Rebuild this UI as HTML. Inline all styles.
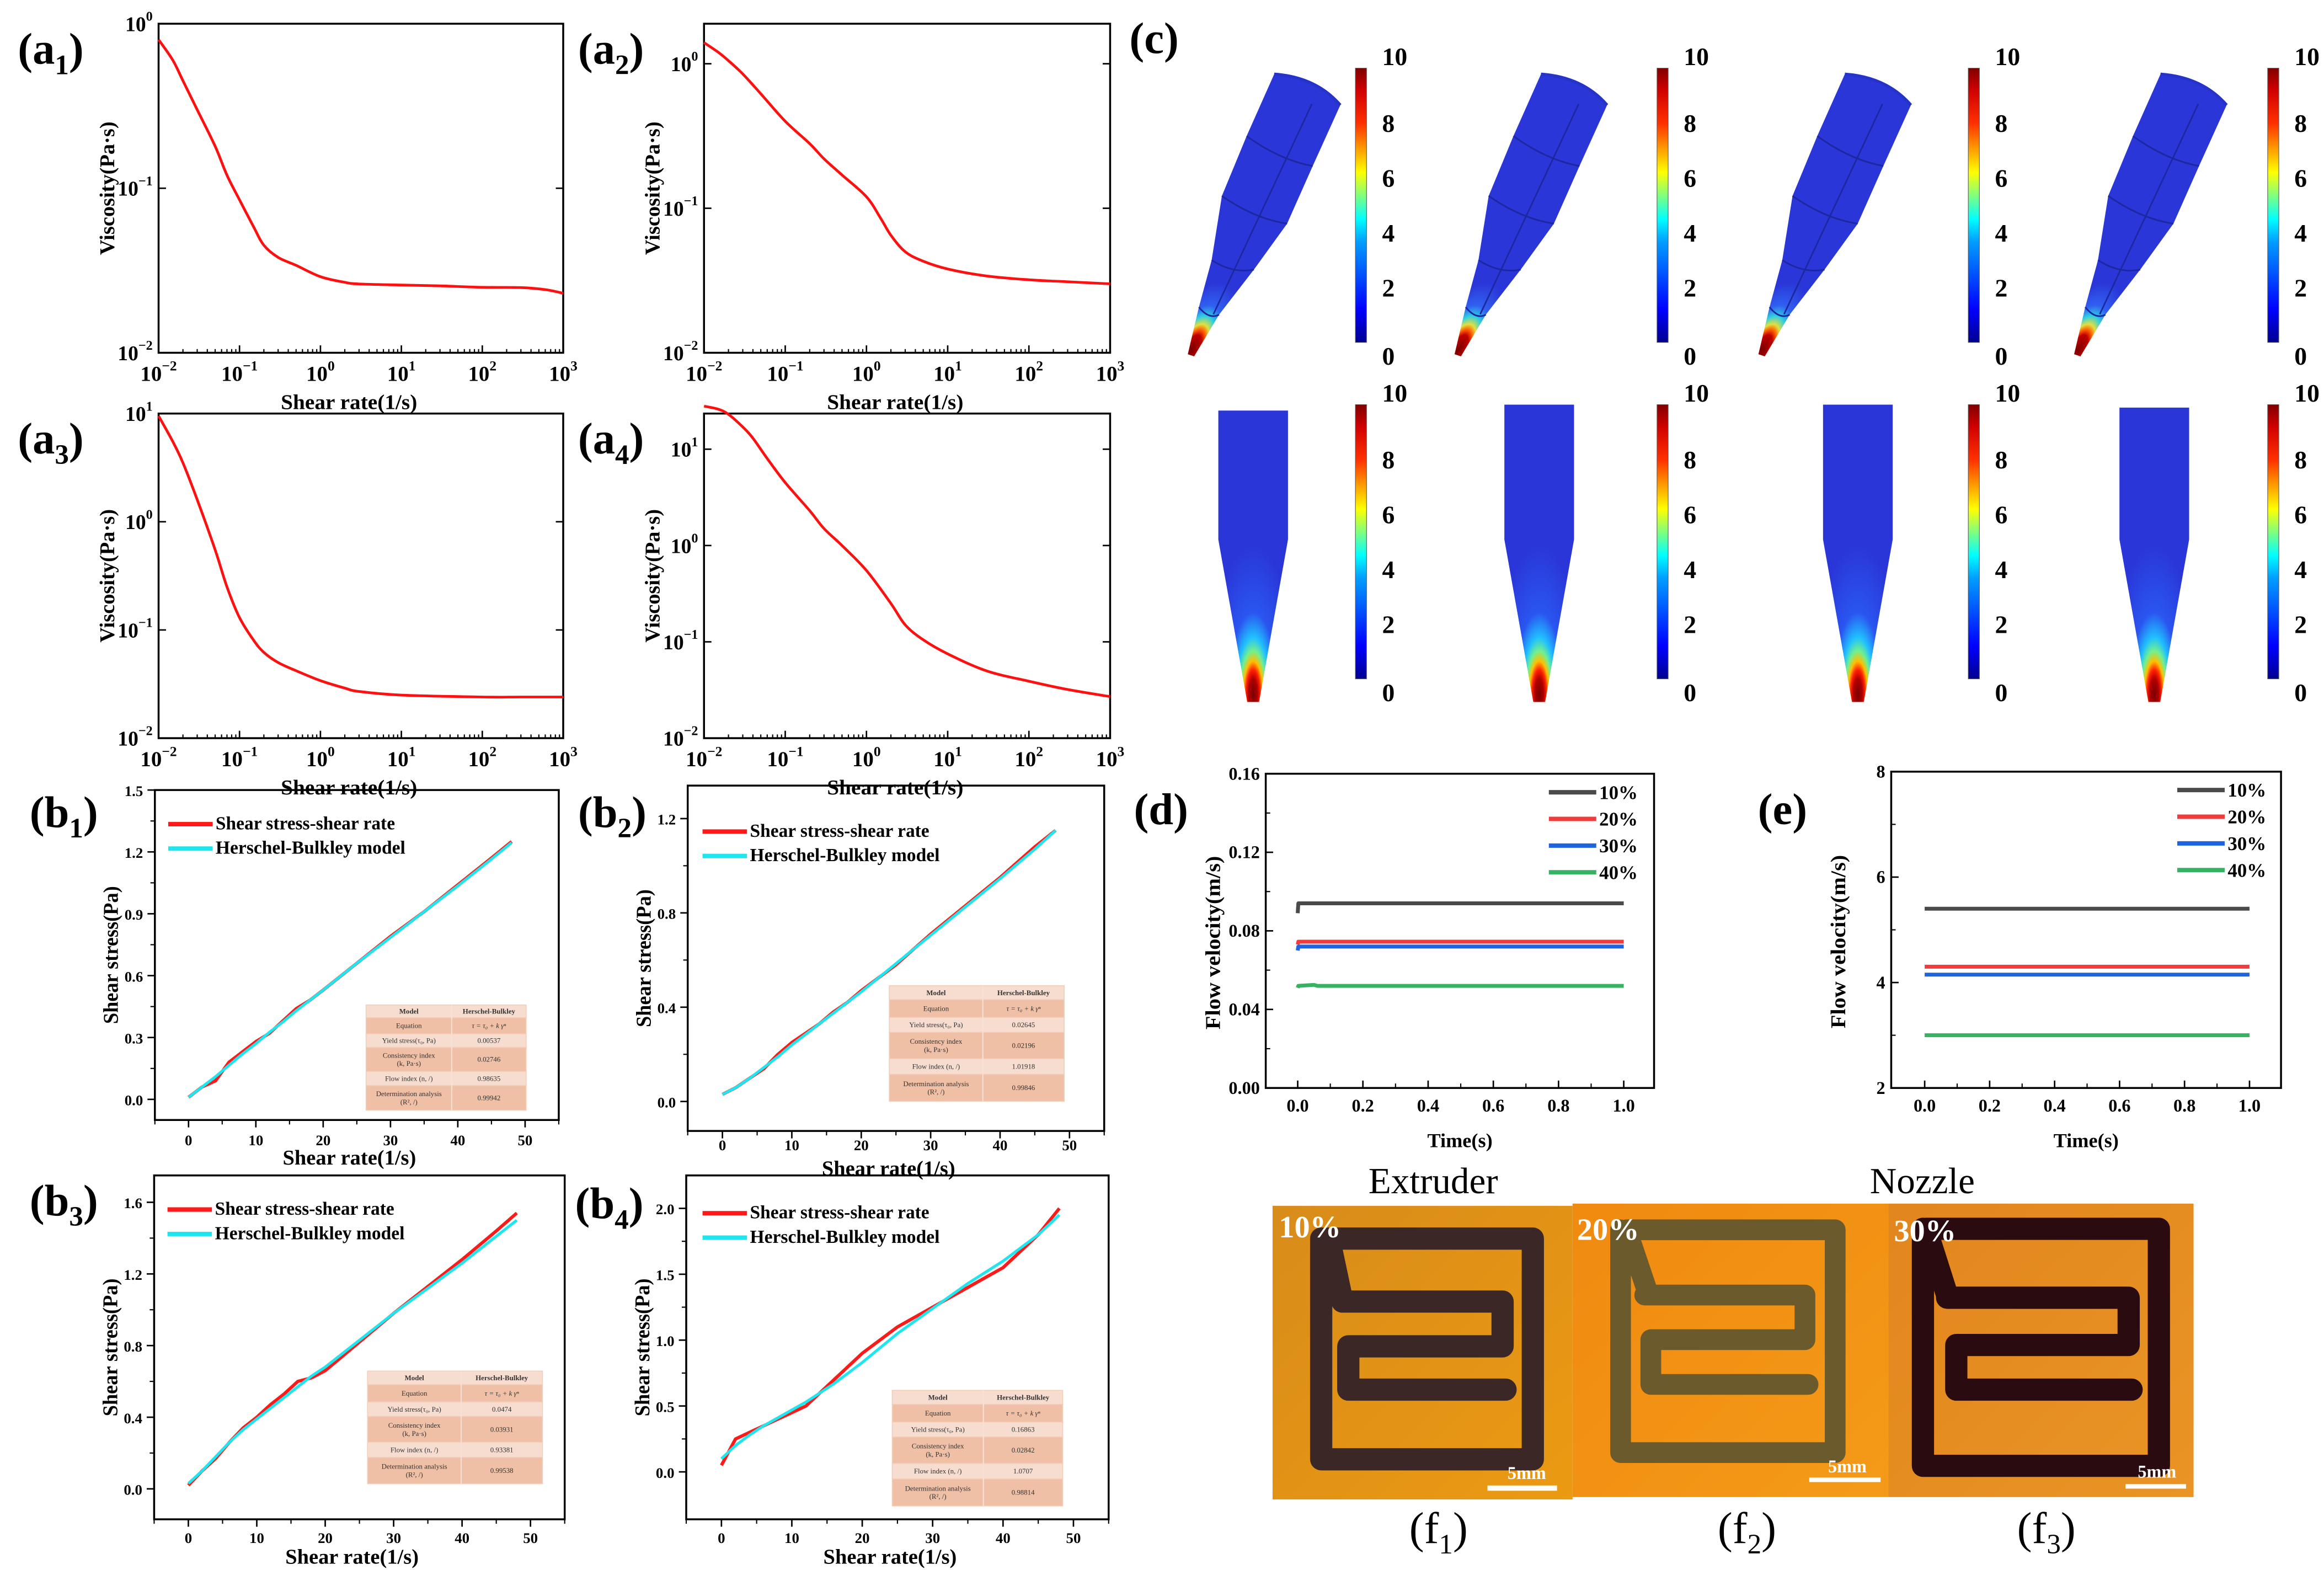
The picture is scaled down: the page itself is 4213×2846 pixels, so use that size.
<!DOCTYPE html>
<html><head><meta charset="utf-8">
<style>
html,body{margin:0;padding:0;background:#fff;}
svg{display:block;}
</style></head>
<body>
<svg id="fig" xmlns="http://www.w3.org/2000/svg" viewBox="0 0 1568 1059.2" width="4213" height="2846" preserveAspectRatio="none" font-family="'Liberation Serif', 'Times New Roman', serif" font-weight="bold" fill="#000">
<defs>
<linearGradient id="jet" x1="0" y1="1" x2="0" y2="0">
<stop offset="0" stop-color="#00008f"/><stop offset="0.12" stop-color="#0000ff"/>
<stop offset="0.37" stop-color="#00a0ff"/><stop offset="0.45" stop-color="#00ffff"/>
<stop offset="0.62" stop-color="#ffff00"/><stop offset="0.8" stop-color="#ff3000"/>
<stop offset="0.92" stop-color="#d00000"/><stop offset="1" stop-color="#800000"/>
</linearGradient>
</defs>
</svg>
<script>
// ---------- data ----------
const a1Rates=[0.01,0.015,0.02,0.03,0.05,0.07,0.1,0.15,0.2,0.3,0.5,1,2,3,10,30,100,300,600,1000];
const a1Visc=[0.8,0.6,0.45,0.3,0.18,0.12,0.085,0.058,0.045,0.038,0.034,0.029,0.0268,0.0262,0.0258,0.0255,0.025,0.0249,0.0242,0.023];
const a2Rates=[0.01,0.015,0.02,0.03,0.05,0.1,0.2,0.3,0.5,1,1.5,2,3,5,10,30,100,300,1000];
const a2Visc=[1.4,1.2,1.05,0.85,0.62,0.4,0.28,0.22,0.17,0.12,0.085,0.065,0.05,0.043,0.038,0.034,0.032,0.031,0.03];
const a3Rates=[0.01,0.015,0.02,0.03,0.05,0.07,0.1,0.15,0.2,0.3,0.5,1,2,3,10,100,300,1000];
const a3Visc=[9.5,5.5,3.5,1.6,0.55,0.25,0.13,0.08,0.062,0.05,0.042,0.034,0.029,0.027,0.025,0.024,0.024,0.024];
const a4Rates=[0.01,0.015,0.02,0.03,0.04,0.06,0.1,0.2,0.3,0.5,1,2,3,5,10,30,100,300,1000];
const a4Visc=[28,26,23,17,13,8,4.5,2.3,1.5,1.0,0.55,0.25,0.15,0.105,0.075,0.05,0.039,0.032,0.027];
const bRates=[0,2,4,6,8,10,12,14,16,18,20,25,30,35,40,45,48];
const b1Red=[0.01,0.06,0.09,0.18,0.23,0.28,0.32,0.38,0.44,0.48,0.53,0.66,0.79,0.91,1.04,1.17,1.25];
const b1Cyan=[0.01,0.06,0.11,0.165,0.22,0.27,0.325,0.375,0.43,0.48,0.53,0.66,0.785,0.91,1.035,1.165,1.245];
const b2Red=[0.03,0.06,0.1,0.14,0.2,0.25,0.29,0.33,0.38,0.42,0.47,0.58,0.71,0.83,0.95,1.08,1.15];
const b2Cyan=[0.03,0.06,0.1,0.145,0.19,0.24,0.285,0.33,0.375,0.42,0.465,0.585,0.705,0.825,0.945,1.07,1.15];
const b3Red=[0.02,0.1,0.17,0.26,0.34,0.4,0.47,0.53,0.6,0.62,0.66,0.82,0.98,1.13,1.28,1.44,1.54];
const b3Cyan=[0.03,0.1,0.18,0.26,0.33,0.39,0.45,0.51,0.57,0.63,0.68,0.83,0.98,1.12,1.26,1.41,1.5];
const b4Red=[0.05,0.25,0.3,0.35,0.4,0.45,0.5,0.6,0.7,0.8,0.9,1.1,1.25,1.4,1.55,1.8,2.0];
const b4Cyan=[0.1,0.2,0.28,0.35,0.41,0.47,0.53,0.6,0.67,0.75,0.83,1.05,1.24,1.43,1.6,1.8,1.95];
const b1Table=["0.00537","0.02746","0.98635","0.99942"];
const b2Table=["0.02645","0.02196","1.01918","0.99846"];
const b3Table=["0.0474","0.03931","0.93381","0.99538"];
const b4Table=["0.16863","0.02842","1.0707","0.98814"];
const dTime=[0,0.002,0.05,0.06,0.08,1];
const d10=[0.089,0.094,0.094,0.094,0.094,0.094];
const d20=[0.073,0.0745,0.0745,0.0745,0.0745,0.0745];
const d30=[0.07,0.072,0.072,0.072,0.072,0.072];
const d40=[0.051,0.052,0.0525,0.052,0.052,0.052];
const eTime=[0,1];
const e10=[5.4,5.4];
const e20=[4.3,4.3];
const e30=[4.15,4.15];
const e40=[3.0,3.0];
const seriesNames=["10%","20%","30%","40%"];
const cbTicks=[0,2,4,6,8,10];

// ---------- helpers ----------
const NS='http://www.w3.org/2000/svg';
const svg=document.getElementById('fig');
function mk(tag,parent,attrs){const e=document.createElementNS(NS,tag);for(const k in attrs)e.setAttribute(k,attrs[k]);parent.appendChild(e);return e;}
function txt(parent,x,y,s,size,anchor,extra){const t=mk('text',parent,Object.assign({x:x,y:y,'font-size':size,'text-anchor':anchor||'start'},extra||{}));t.textContent=s;return t;}
function group(name){const g=mk('g',svg,{});return g;}
function smoothPath(pts){
 let d='M'+pts[0][0].toFixed(2)+','+pts[0][1].toFixed(2);
 for(let i=0;i<pts.length-1;i++){
  const p0=pts[Math.max(0,i-1)],p1=pts[i],p2=pts[i+1],p3=pts[Math.min(pts.length-1,i+2)];
  const c1=[p1[0]+(p2[0]-p0[0])/6,p1[1]+(p2[1]-p0[1])/6],c2=[p2[0]-(p3[0]-p1[0])/6,p2[1]-(p3[1]-p1[1])/6];
  d+=' C'+c1[0].toFixed(2)+','+c1[1].toFixed(2)+' '+c2[0].toFixed(2)+','+c2[1].toFixed(2)+' '+p2[0].toFixed(2)+','+p2[1].toFixed(2);
 }
 return d;
}
function panelLabel(g,x,y,letter,sub){const t=mk('text',g,{x:x,y:y,'font-size':30});
 
 const a=mk('tspan',t,{});a.textContent='('+letter;
 if(sub){const s=mk('tspan',t,{'font-size':19,dy:7});s.textContent=sub;const c=mk('tspan',t,{dy:-7});c.textContent=')';}
 else{a.textContent='('+letter+')';}}

// ---------- log panels ----------
function logPanel(name,P,rates,visc){
 const g=group(name);
 const sx=v=>P.x0+(Math.log10(v)+2)/5*(P.x1-P.x0);
 const sy=v=>P.y1-(Math.log10(v)-P.ymin)/(P.ymax-P.ymin)*(P.y1-P.y0);
 const fr=mk('rect',g,{x:P.x0,y:P.y0,width:P.x1-P.x0,height:P.y1-P.y0,fill:'none',stroke:'#000','stroke-width':1.3});
 
 for(let d=-2;d<=3;d++){
  const x=sx(Math.pow(10,d));
  const t=mk('line',g,{x1:x,y1:P.y1,x2:x,y2:P.y1-5,stroke:'#000','stroke-width':1});
  
  const l=mk('text',g,{x:x,y:P.y1+19,'font-size':14.5,'text-anchor':'middle'});
  
  const b=mk('tspan',l,{});b.textContent='10';
  const s=mk('tspan',l,{'font-size':9.5,dy:-7});s.textContent=(d<0?'\u2212':'')+Math.abs(d);
  if(d<3){for(let m=2;m<=9;m++){const xm=sx(m*Math.pow(10,d));
   const mt=mk('line',g,{x1:xm,y1:P.y1,x2:xm,y2:P.y1-2.5,stroke:'#000','stroke-width':0.8});
   }}
 }
 P.yt.forEach(d=>{const y=sy(Math.pow(10,d));
  const t=mk('line',g,{x1:P.x0,y1:y,x2:P.x0+5,y2:y,stroke:'#000','stroke-width':1});
  
  const t2=mk('line',g,{x1:P.x1,y1:y,x2:P.x1-5,y2:y,stroke:'#000','stroke-width':1});
  
  const l=mk('text',g,{x:P.x0-4,y:y+5,'font-size':14,'text-anchor':'end'});
  
  const b=mk('tspan',l,{});b.textContent='10';
  const s=mk('tspan',l,{'font-size':9,dy:-7});s.textContent=(d<0?'\u2212':'')+Math.abs(d);
 });
 const pts=rates.map((r,i)=>[sx(r),sy(visc[i])]);
 const pl=mk('path',g,{d:smoothPath(pts),fill:'none',stroke:'#ff1010','stroke-width':1.8,'stroke-linejoin':'round'});
 
 const xt=txt(g,(P.x0+P.x1)/2-8,P.y1+38,'Shear rate(1/s)',14,'middle',{textLength:92,lengthAdjust:'spacingAndGlyphs'});
 
 const cy=(P.y0+P.y1)/2;
 const yt=txt(g,0,0,'Viscosity(Pa\u00b7s)',14,'middle',{transform:'translate('+(P.x0-30)+','+cy+') rotate(-90)',textLength:90,lengthAdjust:'spacingAndGlyphs'});
 
 return g;
}
const ga1=logPanel('panel-a1',{x0:107,x1:380,y0:16,y1:238,ymin:-2,ymax:0,yt:[-2,-1,0]},a1Rates,a1Visc);
panelLabel(ga1,12,43,'a','1');
const ga2=logPanel('panel-a2',{x0:475,x1:749,y0:16,y1:238,ymin:-2,ymax:0.277,yt:[-2,-1,0]},a2Rates,a2Visc);
panelLabel(ga2,390,43,'a','2');
const ga3=logPanel('panel-a3',{x0:107,x1:380,y0:279,y1:498,ymin:-2,ymax:1,yt:[-2,-1,0,1]},a3Rates,a3Visc);
panelLabel(ga3,12,306,'a','3');
const ga4=logPanel('panel-a4',{x0:475,x1:749,y0:279,y1:498,ymin:-2,ymax:1.37,yt:[-2,-1,0,1]},a4Rates,a4Visc);
panelLabel(ga4,390,306,'a','4');

// ---------- linear panels ----------
function linAxes(g,P){
 const sx=v=>P.x0+(v-P.xmin)/(P.xmax-P.xmin)*(P.x1-P.x0);
 const sy=v=>P.y1-(v-P.ymin)/(P.ymax-P.ymin)*(P.y1-P.y0);
 const fr=mk('rect',g,{x:P.x0,y:P.y0,width:P.x1-P.x0,height:P.y1-P.y0,fill:'none',stroke:'#000','stroke-width':1.3});
 
 const dir=P.out?1:-1;
 P.xt.forEach((v,i)=>{const x=sx(v);
  const t=mk('line',g,{x1:x,y1:P.y1,x2:x,y2:P.y1+5*dir,stroke:'#000','stroke-width':1});
  
  const l=txt(g,x,P.y1+P.xlOff,P.xtl[i],P.fs,'middle');
  });
 P.xm.forEach(v=>{const x=sx(v);
  const t=mk('line',g,{x1:x,y1:P.y1,x2:x,y2:P.y1+3*dir,stroke:'#000','stroke-width':0.8});
  });
 P.yt.forEach((v,i)=>{const y=sy(v);
  const t=mk('line',g,{x1:P.x0,y1:y,x2:P.x0-5*dir,y2:y,stroke:'#000','stroke-width':1});
  
  const l=txt(g,P.x0-(P.out?8:4),y+4,P.ytl[i],P.fs,'end');
  });
 P.ym.forEach(v=>{const y=sy(v);
  const t=mk('line',g,{x1:P.x0,y1:y,x2:P.x0-3*dir,y2:y,stroke:'#000','stroke-width':0.8});
  });
 return {sx,sy};
}
function series(g,A,xs,ys,color,w,name){
 const pts=xs.map((v,i)=>A.sx(v).toFixed(2)+','+A.sy(ys[i]).toFixed(2)).join(' ');
 const pl=mk('polyline',g,{points:pts,fill:'none',stroke:color,'stroke-width':w,'stroke-linejoin':'round'});
 
}
function hbTable(g,x,y,w,h,vals){
 const tg=mk('g',g,{});
 
 const fr=[45,57,48,85,50,87],tot=372;const split=x+w*0.535;
 const labels=[['Model'],['Equation'],['Yield stress(\u03c4\u2080, Pa)'],['Consistency index','(k, Pa\u00b7s)'],['Flow index (n, /)'],['Determination analysis','(R\u00b2, /)']];
 const right=['Herschel-Bulkley','\u03c4 = \u03c4\u2080 + k \u03b3\u207f'].concat(vals);
 let cy=y;
 fr.forEach((f,i)=>{const rh=h*f/tot;
  const r=mk('rect',tg,{x:x,y:cy,width:w,height:rh,fill:(i%2==0)?'#f7ddd0':'#efc0a6',stroke:'#f4cdb8','stroke-width':0.6});
  
  const fw=(i==0)?'bold':'normal';
  labels[i].forEach((s,k)=>{const t=txt(tg,(x+split)/2,cy+rh/2+1.6+(k-(labels[i].length-1)/2)*5.5,s,4.8,'middle',{'font-weight':fw,fill:'#333'});
   });
  const tv=txt(tg,(split+x+w)/2,cy+rh/2+1.6,right[i],4.8,'middle',{'font-weight':fw,fill:'#333','font-style':i==1?'italic':'normal'});
  
  cy+=rh;});
 const sl=mk('line',tg,{x1:split,y1:y,x2:split,y2:y+h,stroke:'#f7e0d4','stroke-width':0.8});
 
}
function bPanel(name,P,red,cyan,tbl,T,leg,lab){
 const g=group(name);
 const A=linAxes(g,P);
 series(g,A,bRates,red,'#ff1a1a',2.2,'shear-stress-curve');
 series(g,A,bRates,cyan,'#1fe6ee',1.9,'herschel-bulkley-fit');
 hbTable(g,T[0],T[1],T[2],T[3],tbl);
 const l1=mk('line',g,{x1:leg[0],y1:leg[1]-3.5,x2:leg[0]+30,y2:leg[1]-3.5,stroke:'#ff1a1a','stroke-width':3});
 
 const t1=txt(g,leg[0]+32,leg[1],'Shear stress-shear rate',12.5,'start',{textLength:121,lengthAdjust:'spacingAndGlyphs'});
 
 const l2=mk('line',g,{x1:leg[0],y1:leg[1]+13,x2:leg[0]+30,y2:leg[1]+13,stroke:'#1fe6ee','stroke-width':3});
 
 const t2=txt(g,leg[0]+32,leg[1]+16.5,'Herschel-Bulkley model',12.5,'start',{textLength:128,lengthAdjust:'spacingAndGlyphs'});
 
 const xt=txt(g,(P.x0+P.x1)/2-5,P.y1+30,'Shear rate(1/s)',14,'middle',{textLength:90,lengthAdjust:'spacingAndGlyphs'});
 
 const cy=(P.y0+P.y1)/2;
 const yt=txt(g,0,0,'Shear stress(Pa)',14,'middle',{transform:'translate('+(P.x0-25)+','+cy+') rotate(-90)',textLength:93,lengthAdjust:'spacingAndGlyphs'});
 
 panelLabel(g,lab[0],lab[1],'b',lab[2]);
}
const xtB=[0,10,20,30,40,50],xtlB=['0','10','20','30','40','50'],xmB=[-5,5,15,25,35,45,55];
bPanel('panel-b1',{x0:104.5,x1:377,y0:533,y1:755.6,xmin:-5,xmax:55,ymin:-0.1,ymax:1.5,xt:xtB,xtl:xtlB,xm:xmB,yt:[0,0.3,0.6,0.9,1.2,1.5],ytl:['0.0','0.3','0.6','0.9','1.2','1.5'],ym:[0.15,0.45,0.75,1.05,1.35],out:true,xlOff:17,fs:10},
 b1Red,b1Cyan,b1Table,[247,678,108,71],[113.5,559.5],[20,558,'1']);
bPanel('panel-b2',{x0:464,x1:745,y0:530,y1:763,xmin:-5,xmax:55,ymin:-0.125,ymax:1.34,xt:xtB,xtl:xtlB,xm:xmB,yt:[0,0.4,0.8,1.2],ytl:['0.0','0.4','0.8','1.2'],ym:[0.2,0.6,1.0],out:true,xlOff:13,fs:10},
 b2Red,b2Cyan,b2Table,[600,665,118,78],[474,564.5],[390,558,'2']);
bPanel('panel-b3',{x0:104,x1:381,y0:793,y1:1025,xmin:-5,xmax:55,ymin:-0.17,ymax:1.75,xt:xtB,xtl:xtlB,xm:xmB,yt:[0,0.4,0.8,1.2,1.6],ytl:['0.0','0.4','0.8','1.2','1.6'],ym:[0.2,0.6,1.0,1.4],out:true,xlOff:16,fs:10},
 b3Red,b3Cyan,b3Table,[248,925,118,76],[113,819.5],[20,820,'3']);
bPanel('panel-b4',{x0:463,x1:748,y0:793,y1:1025,xmin:-5,xmax:55,ymin:-0.36,ymax:2.25,xt:xtB,xtl:xtlB,xm:xmB,yt:[0,0.5,1.0,1.5,2.0],ytl:['0.0','0.5','1.0','1.5','2.0'],ym:[0.25,0.75,1.25,1.75],out:true,xlOff:16,fs:10},
 b4Red,b4Cyan,b4Table,[602,938,115,78],[474,822],[388,822,'4']);

// ---------- velocity panels d / e ----------
const velColors=['#4a4a4a','#f23c3c','#1e63e0','#35b262'];
function velPanel(name,P,time,vals,leg,lab){
 const g=group(name);
 const A=linAxes(g,P);
 vals.forEach((v,i)=>series(g,A,time,v,velColors[i],2.6,'velocity-'+(i+1)*10+'pct'));
 seriesNames.forEach((s,i)=>{const y=leg[1]+i*18;
  const l=mk('line',g,{x1:leg[0],y1:y,x2:leg[0]+32,y2:y,stroke:velColors[i],'stroke-width':3});
  
  const t=txt(g,leg[0]+34,y+4.5,s,13,'start');
  });
 const xt=txt(g,(P.x0+P.x1)/2,P.y1+40,'Time(s)',13.5,'middle');
 
 const cy=(P.y0+P.y1)/2+8;
 const yt=txt(g,0,0,'Flow velocity(m/s)',14,'middle',{transform:'translate('+(P.x0-31)+','+cy+') rotate(-90)',textLength:117,lengthAdjust:'spacingAndGlyphs'});
 
 panelLabel(g,lab[0],lab[1],lab[2],null);
}
const xtV=[0,0.2,0.4,0.6,0.8,1.0],xtlV=['0.0','0.2','0.4','0.6','0.8','1.0'],xmV=[0.1,0.3,0.5,0.7,0.9];
velPanel('panel-d',{x0:854,x1:1116,y0:522,y1:734,xmin:-0.098,xmax:1.093,ymin:0,ymax:0.16,xt:xtV,xtl:xtlV,xm:xmV,yt:[0,0.04,0.08,0.12,0.16],ytl:['0.00','0.04','0.08','0.12','0.16'],ym:[0.02,0.06,0.10,0.14],out:false,xlOff:16,fs:12},
 dTime,[d10,d20,d30,d40],[1045,534.5],[765,556,'d']);
velPanel('panel-e',{x0:1276,x1:1539,y0:520.6,y1:734,xmin:-0.103,xmax:1.097,ymin:2,ymax:8,xt:xtV,xtl:xtlV,xm:xmV,yt:[2,4,6,8],ytl:['2','4','6','8'],ym:[3,5,7],out:false,xlOff:16,fs:12},
 eTime,[e10,e20,e30,e40],[1469,533],[1186,556,'e']);

// ---------- panel c: nozzle simulations ----------
const gc=group('panel-c');
panelLabel(gc,762,36,'c',null);
const defs=svg.querySelector('defs');
const topOff=[0,180,385,598];
const cbX=[914.5,1118,1328,1530];
const leftEdge=[[859.7,50],[841.1,91.8],[824.4,132.2],[817.5,175.5],[808.9,207.2],[801.4,239]];
const rightEdge=[[904.3,70.9],[885.7,112],[868.4,150.9],[846,181.9],[822.5,212.3],[805.7,240.4]];
const bodyBlue='#2a36d8';
topOff.forEach((o,i)=>{
 const rg=mk('radialGradient',defs,{id:'tipT'+i,gradientUnits:'userSpaceOnUse',cx:804+o,cy:236,r:50,gradientTransform:'rotate(-62 '+(804+o)+' 236) translate('+(804+o)+',236) scale(1,0.45) translate('+(-(804+o))+',-236)'});
 [['0','#7a0000'],['0.22','#c00000'],['0.3','#ff6000'],['0.38','#e0e040'],['0.5','#30d0e0'],['0.66','#3060f0'],['1',bodyBlue]].forEach(s=>mk('stop',rg,{offset:s[0],'stop-color':s[1]}));
 const poly=leftEdge.concat(rightEdge.slice().reverse());
 const d='M'+(leftEdge[0][0]+o)+','+leftEdge[0][1]+' '+leftEdge.slice(1).map(q=>'L'+(q[0]+o)+','+q[1]).join(' ')+' '+rightEdge.slice().reverse().map(q=>'L'+(q[0]+o)+','+q[1]).join(' ')+' Q'+(888+o)+',52 '+(leftEdge[0][0]+o)+','+leftEdge[0][1]+'Z';
 const p=mk('path',gc,{d:d,fill:'url(#tipT'+i+')'});
 
 for(let k=1;k<5;k++){
  const a=leftEdge[k],b=rightEdge[k];
  const ln=mk('path',gc,{d:'M'+(a[0]+o)+','+a[1]+' Q'+((a[0]+b[0])/2+o)+','+((a[1]+b[1])/2+6)+' '+(b[0]+o)+','+b[1],fill:'none',stroke:'#1d27a0','stroke-width':1.1});
  }
 const rim=mk('path',gc,{d:'M'+(859.7+o)+',50 Q'+(888+o)+',52 '+(904.3+o)+',70.9',fill:'none',stroke:'#2533c8','stroke-width':2});
 
 const sp=mk('line',gc,{x1:818.7+o,y1:212,x2:885.1+o,y2:70.2,stroke:'#1d27a0','stroke-width':1});
 
 // bottom section view
 const bx=822+[0,193,408,608][i],bw=47;
 const bg=mk('radialGradient',defs,{id:'tipB'+i,gradientUnits:'userSpaceOnUse',cx:bx+bw/2,cy:468,r:100,gradientTransform:'translate('+(bx+bw/2)+',468) scale(0.3,1) translate('+(-(bx+bw/2))+',-468)'});
 [['0','#7a0000'],['0.1','#b00000'],['0.16','#ff2000'],['0.22','#ffc000'],['0.29','#70f090'],['0.38','#20c0ff'],['0.55','#2a55f0'],['1',bodyBlue]].forEach(s=>mk('stop',bg,{offset:s[0],'stop-color':s[1]}));
 const top=[277,273,273,275][i];
 const bp=mk('polygon',gc,{points:[[bx,top],[bx+bw,top],[bx+bw,364],[bx+bw/2+4,473.6],[bx+bw/2-4,473.6],[bx,364]].map(q=>q.join(',')).join(' '),fill:'url(#tipB'+i+')'});
 
 // colorbars
 [[46,231],[273,458]].forEach((yy,r)=>{
  const cb=mk('rect',gc,{x:cbX[i],y:yy[0],width:7.5,height:yy[1]-yy[0],fill:'url(#jet)',stroke:'#555','stroke-width':0.4});
  
  cbTicks.forEach(v=>{const y=yy[1]-v/10*(yy[1]-yy[0]);
   const t=txt(gc,cbX[i]+18,y+(v==10?-2:v==0?15:6),String(v),17,'start');
   });
 });
});

// ---------- panel f: printed photos ----------
const gf=group('panel-f');
const fX=z=>(z/0.912+2280)/2.687, fY=z=>(z/2.1+2100)/2.687;
const photos=[
 {r:[858.6,813.5,1061,1011.6],bg:['#d88c1a','#eb9a12'],ink:'#3a2726',w:15,lab:'10%',lx:35,ly:300,
  paths:[[[140,545],[118,305],[455,305],[455,1145],[105,1145],[105,305]],[[140,545],[405,545],[405,715],[150,715],[150,880],[410,880]]],
  bar:[380,495,1245,1265],mm:[445,1220],f:[285,'1']},
 {r:[1061,812,1274,1010],bg:['#f08a10','#f49a18'],ink:'#6a5a2c',w:14,lab:'20%',lx:528,ly:310,
  paths:[[[645,510],[610,272],[955,272],[955,1120],[600,1120],[600,272]],[[640,520],[905,520],[905,690],[650,690],[650,860],[910,860]]],
  bar:[912,1030,1215,1232],mm:[975,1195],f:[795,'2']},
 {r:[1274,812,1480,1010],bg:['#e2861e','#e99425'],ink:'#2a0c10',w:15,lab:'30%',lx:1052,ly:315,
  paths:[[[1140,520],[1105,268],[1490,268],[1490,1170],[1100,1170],[1100,268]],[[1140,530],[1440,530],[1440,710],[1155,710],[1155,880],[1445,880]]],
  bar:[1435,1535,1240,1257],mm:[1487,1215],f:[1290,'3']}];
photos.forEach((P,i)=>{
 const lg=mk('linearGradient',defs,{id:'pg'+i,x1:0,y1:0,x2:1,y2:1});
 mk('stop',lg,{offset:0,'stop-color':P.bg[0]});mk('stop',lg,{offset:1,'stop-color':P.bg[1]});
 const r=mk('rect',gf,{x:P.r[0],y:P.r[1],width:P.r[2]-P.r[0],height:P.r[3]-P.r[1],fill:'url(#pg'+i+')'});
 
 P.paths.forEach(pp=>{
  const d='M'+pp.map(q=>fX(q[0]).toFixed(1)+','+fY(q[1]).toFixed(1)).join(' L');
  const p=mk('path',gf,{d:d,fill:'none',stroke:P.ink,'stroke-width':P.w,'stroke-linejoin':'round','stroke-linecap':'round'});
  });
 const t=txt(gf,fX(P.lx),fY(P.ly),P.lab,21,'start',{fill:'#fff'});
 
 const b=mk('rect',gf,{x:fX(P.bar[0]),y:fY(P.bar[2]),width:fX(P.bar[1])-fX(P.bar[0]),height:fY(P.bar[3])-fY(P.bar[2]),fill:'#fff'});
 
 const m=txt(gf,fX(P.mm[0]),fY(P.mm[1]),'5mm',12,'middle',{fill:'#fff'});
 
 const fl=mk('text',gf,{x:fX(P.f[0])-14,y:1041,'font-size':30,'font-weight':'normal'});
 
 const a=mk('tspan',fl,{});a.textContent='(f';
 const s=mk('tspan',fl,{'font-size':19,dy:7});s.textContent=P.f[1];
 const c=mk('tspan',fl,{dy:-7});c.textContent=')';
});
const ex=txt(gf,967,805,'Extruder',25,'middle',{'font-weight':'normal'});

const nz=txt(gf,1297,805,'Nozzle',25,'middle',{'font-weight':'normal'});

</script>
</body></html>
